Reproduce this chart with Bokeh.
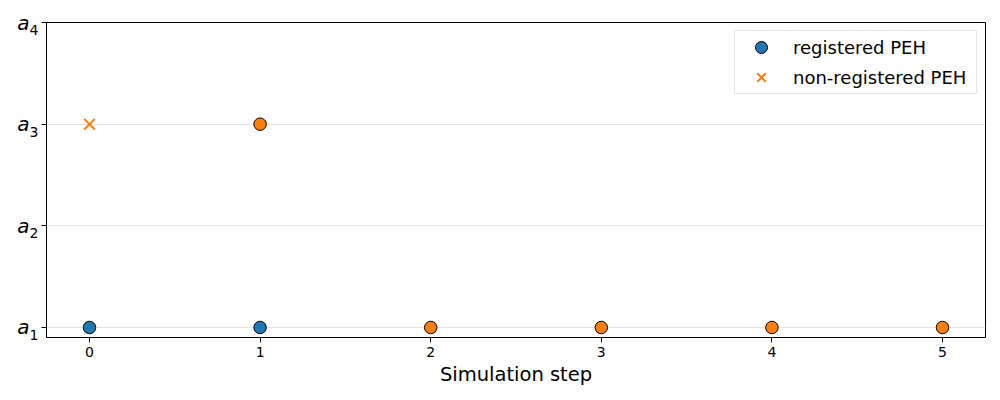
from bokeh.plotting import figure
from bokeh.models import ColumnDataSource, Range1d, FixedTicker, Legend, LegendItem, LinearAxis
from bokeh.embed import file_html
from bokeh.resources import INLINE

# data
steps_reg_a = [0, 1]
acts_reg_a = [1, 1]
steps_reg_b = [1, 2, 3, 4, 5]
acts_reg_b = [3, 1, 1, 1, 1]
steps_nonreg = [0]
acts_nonreg = [3]
y_tick_vals = [1, 2, 3, 4]
y_tick_base = ["a", "a", "a", "a"]
y_tick_sub = ["1", "2", "3", "4"]
x_tick_vals = [0, 1, 2, 3, 4, 5]

BLUE = "#1f77b4"
ORANGE = "#ff7f0e"

Y0, Y1 = 0.9016, 4.0
SUB_SHIFT = 0.074  # subscript drop, in y units (~7.5px)

p = figure(width=1000, height=400, output_backend="svg", toolbar_location=None,
           x_range=Range1d(-0.252, 5.252), y_range=Range1d(Y0, Y1),
           min_border_left=46, min_border_right=15, min_border_top=22, min_border_bottom=63)
p.extra_y_ranges = {"sub": Range1d(Y0 + SUB_SHIFT, Y1 + SUB_SHIFT)}

p.outline_line_color = "black"
p.outline_line_width = 1
p.xgrid.grid_line_color = None
p.ygrid.grid_line_color = "#e5e5e5"
p.ygrid.grid_line_width = 1

p.xaxis.ticker = FixedTicker(ticks=x_tick_vals)
p.yaxis.ticker = FixedTicker(ticks=y_tick_vals)
p.yaxis.major_label_overrides = {v: "" for v in y_tick_vals}
for ax in (p.xaxis, p.yaxis):
    ax.axis_line_color = None
    ax.major_tick_line_color = "black"
    ax.major_tick_out = 5
    ax.major_tick_in = 0
    ax.minor_tick_line_color = None
    ax.major_label_text_color = "black"
    ax.major_label_text_font = "DejaVu Sans"
p.xaxis.major_label_text_font_size = "14px"
p.xaxis.major_label_standoff = 4
p.yaxis.major_label_text_font_size = "1px"
p.yaxis.major_label_standoff = 0
p.xaxis.axis_label = "Simulation step"
p.xaxis.axis_label_text_font = "DejaVu Sans"
p.xaxis.axis_label_text_font_size = "19.5px"
p.xaxis.axis_label_text_font_style = "normal"
p.xaxis.axis_label_text_color = "black"
p.xaxis.axis_label_standoff = 3

# subscript digits (shifted range)
sub_axis = LinearAxis(y_range_name="sub", ticker=FixedTicker(ticks=y_tick_vals),
                      major_label_overrides={v: s for v, s in zip(y_tick_vals, y_tick_sub)})
sub_axis.axis_line_color = None
sub_axis.major_tick_line_color = None
sub_axis.major_tick_out = 0
sub_axis.major_tick_in = 0
sub_axis.minor_tick_line_color = None
sub_axis.major_label_text_font = "DejaVu Sans"
sub_axis.major_label_text_font_size = "14px"
sub_axis.major_label_text_color = "black"
sub_axis.major_label_standoff = 3
p.add_layout(sub_axis, "left")

# italic base letter
base_axis = LinearAxis(ticker=FixedTicker(ticks=y_tick_vals),
                       major_label_overrides={v: b for v, b in zip(y_tick_vals, y_tick_base)})
base_axis.axis_line_color = None
base_axis.major_tick_line_color = None
base_axis.major_tick_out = 0
base_axis.major_tick_in = 0
base_axis.minor_tick_line_color = None
base_axis.major_label_text_font = "DejaVu Sans"
base_axis.major_label_text_font_size = "20px"
base_axis.major_label_text_font_style = "italic"
base_axis.major_label_text_color = "black"
base_axis.major_label_standoff = -3
p.add_layout(base_axis, "left")

src_a = ColumnDataSource(dict(x=steps_reg_a, y=acts_reg_a))
src_b = ColumnDataSource(dict(x=steps_reg_b, y=acts_reg_b))
src_n = ColumnDataSource(dict(x=steps_nonreg, y=acts_nonreg))

r_a = p.scatter("x", "y", source=src_a, marker="circle", size=12.5,
                fill_color=BLUE, line_color="black", line_width=1)
r_b = p.scatter("x", "y", source=src_b, marker="circle", size=12.5,
                fill_color=ORANGE, line_color="black", line_width=1)
r_n = p.scatter("x", "y", source=src_n, marker="x", size=15,
                line_color=ORANGE, line_width=2)

legend = Legend(items=[LegendItem(label="registered PEH", renderers=[r_a]),
                       LegendItem(label="non-registered PEH", renderers=[r_n])],
                location="top_right")
legend.margin = 8
legend.padding = 1
legend.spacing = -3
legend.label_text_font = "DejaVu Sans"
legend.label_text_font_size = "18px"
legend.label_text_color = "black"
legend.label_standoff = 7
legend.glyph_width = 50
legend.glyph_height = 30
legend.label_height = 30
legend.label_width = 182
legend.border_line_color = "#cccccc"
legend.border_line_width = 1
legend.background_fill_alpha = 0.8
p.add_layout(legend)

open("out.html", "w").write(file_html(p, INLINE))
